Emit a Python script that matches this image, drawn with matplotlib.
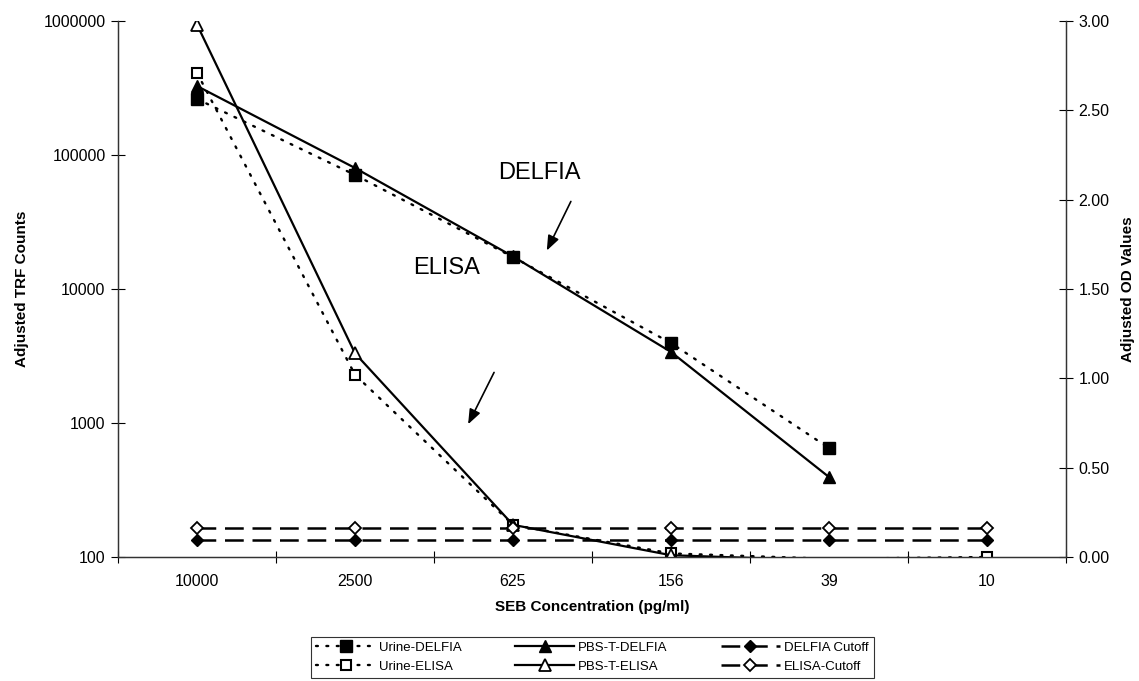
import numpy as np
import matplotlib.pyplot as plt
from matplotlib.ticker import FixedLocator, FuncFormatter

plt.rcParams["font.family"] = ["Liberation Sans", "DejaVu Sans"]

# SEB dilution series (pg/ml), shown as evenly spaced categories
conc = ["10000", "2500", "625", "156", "39", "10"]

# DELFIA, adjusted TRF counts (left, log axis)
urine_delfia = [262000, 71000, 17300, 3950, 650, np.nan]
pbst_delfia = [327000, 80000, 17500, 3390, 395, np.nan]
delfia_cutoff = [134, 134, 134, 134, 134, 134]

# ELISA, adjusted OD values (right axis)
urine_elisa = [2.71, 1.02, 0.18, 0.02, -0.01, 0.00]
pbst_elisa = [2.98, 1.14, 0.18, 0.01, -0.02, np.nan]
elisa_cutoff = [0.16, 0.16, 0.16, 0.16, 0.16, 0.16]

x = np.arange(len(conc))
dot = (0, (0.8, 3.6))
dash = (0, (7.5, 3.5))


def shown(vals):
    # markers below the axis floor are not drawn
    return [i for i, v in enumerate(vals) if np.isfinite(v) and v >= 0]


fig = plt.figure(figsize=(11.39, 6.81), dpi=100)
ax = fig.add_axes([118 / 1139, 1 - 557 / 681, 948 / 1139, 536 / 681])
ax2 = ax.twinx()

h_ud, = ax.plot(x, urine_delfia, color="black", lw=1.7, ls=dot, dash_capstyle="round",
                marker="s", ms=8, mfc="black", mec="black", label="Urine-DELFIA")
h_pd, = ax.plot(x, pbst_delfia, color="black", lw=1.6, ls="-", marker="^",
                ms=8, mfc="black", mec="black", label="PBS-T-DELFIA")
h_dc, = ax.plot(x, delfia_cutoff, color="black", lw=1.8, ls=dash, marker="D",
                ms=6, mfc="black", mec="black", label="DELFIA Cutoff")

h_ue, = ax2.plot(x, urine_elisa, color="black", lw=1.7, ls=dot, dash_capstyle="round",
                 marker="s", ms=7, mfc="white", mec="black", mew=1.5,
                 markevery=shown(urine_elisa), label="Urine-ELISA")
h_pe, = ax2.plot(x, pbst_elisa, color="black", lw=1.6, ls="-", marker="^",
                 ms=8, mfc="white", mec="black", mew=1.3,
                 markevery=shown(pbst_elisa), label="PBS-T-ELISA")
h_ec, = ax2.plot(x, elisa_cutoff, color="black", lw=1.8, ls=dash, marker="D",
                 ms=6, mfc="white", mec="black", mew=1.3, label="ELISA-Cutoff")

ax.set_yscale("log")
ax.set_ylim(100, 1e6)
ax.yaxis.set_major_locator(FixedLocator([1e2, 1e3, 1e4, 1e5, 1e6]))
ax.yaxis.set_minor_locator(FixedLocator([]))
ax.yaxis.set_major_formatter(FuncFormatter(lambda v, p: f"{v:.0f}"))

ax2.set_ylim(0, 3)
ax2.set_yticks(np.arange(0, 3.01, 0.5))
ax2.yaxis.set_major_formatter(FuncFormatter(lambda v, p: f"{v:.2f}"))

ax.set_xlim(-0.5, len(conc) - 0.5)
ax.set_xticks(np.arange(-0.5, len(conc), 1.0))
ax.set_xticklabels([])
ax.set_xticks(x, minor=True)
ax.set_xticklabels(conc, minor=True)
ax.tick_params(axis="x", which="minor", length=0, pad=12, labelsize=11.5)
ax.tick_params(axis="x", which="major", direction="inout", length=9, width=0.8)
ax.tick_params(axis="y", direction="inout", length=10, width=0.8, labelsize=11.5, pad=4)
ax2.tick_params(axis="y", direction="inout", length=10, width=0.8, labelsize=11.5, pad=4)

for a in (ax, ax2):
    a.spines["top"].set_visible(False)
    for s in ("left", "right", "bottom"):
        a.spines[s].set_linewidth(0.9)
        a.spines[s].set_color("#333333")

ax.set_xlabel("SEB Concentration (pg/ml)", fontsize=11, fontweight="bold", labelpad=8)
ax.set_ylabel("Adjusted TRF Counts", fontsize=11, fontweight="bold", labelpad=10)
ax2.set_ylabel("Adjusted OD Values", fontsize=11, fontweight="bold", labelpad=8)

arrow = dict(arrowstyle="-|>,head_length=0.9,head_width=0.35", color="black", lw=1.2)
ax.text(0.445, 0.716, "DELFIA", transform=ax.transAxes, fontsize=17,
        ha="center", va="center")
ax.annotate("", xy=(0.451, 0.567), xytext=(0.479, 0.668),
            xycoords="axes fraction", textcoords="axes fraction", arrowprops=arrow)
ax.text(0.347, 0.54, "ELISA", transform=ax.transAxes, fontsize=17,
        ha="center", va="center")
ax.annotate("", xy=(0.368, 0.243), xytext=(0.398, 0.349),
            xycoords="axes fraction", textcoords="axes fraction", arrowprops=arrow)

leg = fig.legend([h_ud, h_ue, h_pd, h_pe, h_dc, h_ec],
                 [h.get_label() for h in (h_ud, h_ue, h_pd, h_pe, h_dc, h_ec)],
                 ncol=3, loc="upper center", bbox_to_anchor=(0.52, 1 - 630 / 681),
                 fontsize=9.5, frameon=True, fancybox=False, edgecolor="black",
                 handlelength=4.5, columnspacing=4, handletextpad=0.3,
                 borderpad=0.4, labelspacing=0.5)
leg.get_frame().set_linewidth(0.8)

fig.savefig("out.png", dpi=100)
